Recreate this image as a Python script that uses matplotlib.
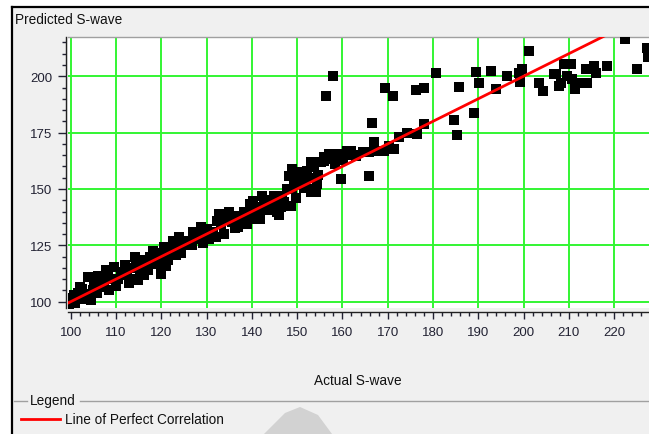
import matplotlib
matplotlib.use("Agg")
import matplotlib.pyplot as plt
from matplotlib.ticker import MultipleLocator
from matplotlib.patches import Polygon
from matplotlib.lines import Line2D

plt.rcParams['font.family'] = ['Liberation Sans', 'DejaVu Sans']

# actual vs predicted S-wave
actual = [
    99.7, 100.4, 100.8, 101.5, 102.6, 103.3, 103.8, 104.4, 104.9, 105.2,
    106.0, 106.7, 107.3, 107.8, 108.5, 109.0, 109.6, 110.4, 111.2, 111.9,
    112.5, 113.0, 113.6, 114.1, 114.8, 115.3, 115.9, 116.5, 117.0, 117.6,
    118.1, 118.7, 119.2, 119.9, 120.2, 120.7, 121.4, 122.0, 122.5, 123.2,
    124.0, 124.7, 125.0, 126.2, 127.0, 128.0, 128.3, 129.2, 130.2, 130.9,
    131.5, 132.2, 132.7, 133.1, 133.8, 134.9, 135.7, 136.2, 136.8, 137.5,
    138.2, 139.0, 139.7, 139.7, 140.5, 141.2, 141.6, 142.3, 142.7, 143.4,
    144.2, 144.9, 145.6, 146.4, 146.7, 147.1, 147.8, 148.2, 148.6, 148.9,
    148.9, 149.3, 150.2, 150.8, 150.8, 151.5, 152.2, 153.0, 153.0, 153.4,
    153.7, 154.1, 154.6, 155.2, 155.9, 156.3, 157.0, 157.4, 158.0, 158.3,
    159.2, 159.6, 160.2, 161.1, 161.8, 163.0, 165.9, 165.9, 166.6, 167.0,
    168.0, 169.2, 169.3, 170.3, 171.2, 171.4, 172.6, 174.2, 176.5, 176.2,
    178.0, 178.1, 180.6, 184.6, 185.4, 185.7, 189.0, 189.6, 190.1, 192.8,
    194.0, 196.4, 199.0, 199.7, 199.3, 201.2, 203.3, 204.4, 206.7, 207.1,
    207.8, 208.2, 208.9, 209.6, 210.4, 210.7, 211.3, 213.0, 213.7, 214.0,
    215.5, 215.9, 218.5, 222.5, 225.1, 227.3, 227.4,
    # extra points inside the dense band
    101.0, 102.0, 103.0, 105.8, 107.0, 108.2, 110.0, 111.5, 112.8, 114.5,
    116.2, 117.8, 119.5, 121.0, 122.8, 124.3, 126.8, 128.8, 130.5, 132.0,
    134.2, 135.2, 137.0, 138.6, 140.2, 141.9, 143.0, 145.2, 146.0, 149.8,
    151.0, 152.6, 154.4, 156.0, 162.4, 164.5,
]
predicted = [
    98.4, 101.5, 102.8, 104.0, 105.8, 103.5, 110.9, 100.6, 105.0, 108.0,
    111.6, 108.0, 106.5, 113.9, 105.0, 110.0, 115.4, 110.2, 113.0, 116.1,
    112.0, 110.2, 115.0, 119.8, 109.4, 113.5, 118.3, 116.0, 113.9, 120.0,
    122.7, 119.0, 116.8, 112.4, 120.5, 124.2, 118.3, 122.0, 127.1, 120.5,
    128.6, 125.0, 125.7, 127.0, 131.0, 130.8, 127.9, 126.0, 132.3, 129.3,
    131.0, 136.0, 138.9, 134.5, 130.0, 139.7, 135.3, 132.5, 138.2, 135.3,
    140.0, 134.5, 143.4, 139.7, 136.5, 142.0, 139.7, 147.0, 144.1, 140.5,
    141.2, 147.0, 139.7, 141.9, 147.0, 144.1, 150.0, 155.9, 142.6, 150.0,
    158.8, 154.4, 152.5, 157.4, 154.4, 150.5, 158.1, 161.8, 148.5, 150.0,
    159.6, 148.5, 156.0, 161.8, 164.0, 191.3, 165.5, 163.3, 200.1, 161.0,
    165.5, 154.4, 163.0, 166.9, 166.9, 164.5, 166.2, 155.9, 179.2, 170.7,
    167.0, 166.9, 195.0, 169.2, 191.3, 167.7, 173.0, 174.8, 174.3, 193.8,
    178.8, 195.0, 201.3, 180.7, 173.9, 195.4, 183.9, 201.9, 197.2, 202.3,
    194.2, 200.1, 201.6, 203.1, 197.5, 211.2, 197.2, 193.6, 200.9, 201.0,
    195.5, 197.2, 205.3, 200.1, 205.3, 198.7, 194.5, 197.2, 203.1, 197.2,
    204.6, 201.6, 204.6, 216.7, 203.1, 212.7, 208.4,
    # extra points inside the dense band
    99.5, 106.5, 101.0, 104.0, 110.5, 111.0, 107.0, 112.5, 108.5, 116.5,
    112.0, 117.0, 121.5, 116.0, 124.5, 121.5, 125.0, 133.0, 128.0, 128.5,
    136.5, 137.5, 133.0, 137.0, 144.5, 136.5, 145.0, 144.0, 138.5, 146.0,
    156.0, 155.0, 152.0, 162.5, 165.0, 166.5,
]
perfect = [90, 240]
x_ticks = list(range(100, 230, 10))
y_ticks = [100, 125, 150, 175, 200]

W, H = 649, 435
bg = '#f0f0f0'
fig = plt.figure(figsize=(W / 100, H / 100), dpi=100, facecolor=bg)


def fx(px):
    return px / W


def fy(py):
    return 1 - py / H


# window frame
fig.add_artist(Line2D([fx(12), fx(12)], [fy(8), 0], color='black', lw=1.6))
fig.add_artist(Line2D([fx(12), 1], [fy(8), fy(8)], color='black', lw=1.6))
fig.add_artist(Polygon([[0, 1], [1, 1], [1, fy(7)], [fx(11), fy(7)], [fx(11), 0], [0, 0]],
                       closed=True, facecolor='white', edgecolor='none'))

left, right, top, bottom = 68, 649, 38, 309
ax = fig.add_axes([fx(left), fy(bottom), fx(right - left), (bottom - top) / H])
ax.set_facecolor('white')

ax.scatter(actual, predicted, marker='s', s=50, color='black', linewidths=0, zorder=3)
ax.plot(perfect, perfect, color='#ff0000', lw=2, zorder=4)

ax.set_xlim(99.4, 227.7)
ax.set_ylim(97.2, 217.4)
ax.set_xticks(x_ticks)
ax.set_yticks(y_ticks)
ax.xaxis.set_minor_locator(MultipleLocator(2))
ax.yaxis.set_minor_locator(MultipleLocator(5))
ax.grid(True, which='major', color='#33f533', lw=1.4, zorder=1)
ax.set_axisbelow(True)

ax.spines['right'].set_visible(False)
ax.spines['top'].set_color('#a0a0a0')
ax.spines['top'].set_linewidth(1)
ax.spines['left'].set_position(('outward', 1.5))
ax.spines['bottom'].set_position(('outward', 3))
for s in ('left', 'bottom'):
    ax.spines[s].set_color('#222222')
    ax.spines[s].set_linewidth(1)

ax.tick_params(axis='y', which='major', length=6, width=1, pad=4, labelsize=9.5, colors='#222233')
ax.tick_params(axis='y', which='minor', length=3, width=1, colors='#222233')
ax.tick_params(axis='x', which='major', length=5, width=1, pad=5, labelsize=9.5, colors='#222233')
ax.tick_params(axis='x', which='minor', length=3, width=1, colors='#222233')

fig.text(fx(15), fy(20), 'Predicted S-wave', fontsize=9.8, va='center', ha='left', color='#111111')
fig.text(fx(358), fy(381), 'Actual S-wave', fontsize=9.8, va='center', ha='center', color='#111111')

# legend box
fig.add_artist(Line2D([fx(14), fx(27)], [fy(402), fy(402)], color='#a0a0a0', lw=1))
fig.add_artist(Line2D([fx(80), 1], [fy(402), fy(402)], color='#a0a0a0', lw=1))
fig.text(fx(30), fy(401), 'Legend', fontsize=9.8, va='center', ha='left', color='#111111')
fig.add_artist(Line2D([fx(21), fx(60)], [fy(420), fy(420)], color='#ff0000', lw=2))
fig.text(fx(65), fy(420), 'Line of Perfect Correlation', fontsize=9.8, va='center', ha='left',
         color='#111111')

# faint grey shape at the bottom
fig.add_artist(Polygon([[fx(264), 0], [fx(285), fy(414)], [fx(300), fy(408)],
                        [fx(318), fy(416)], [fx(332), 0]],
                       closed=True, facecolor='#d2d2d2', edgecolor='none'))

fig.savefig('out.png', dpi=100, facecolor=bg)
